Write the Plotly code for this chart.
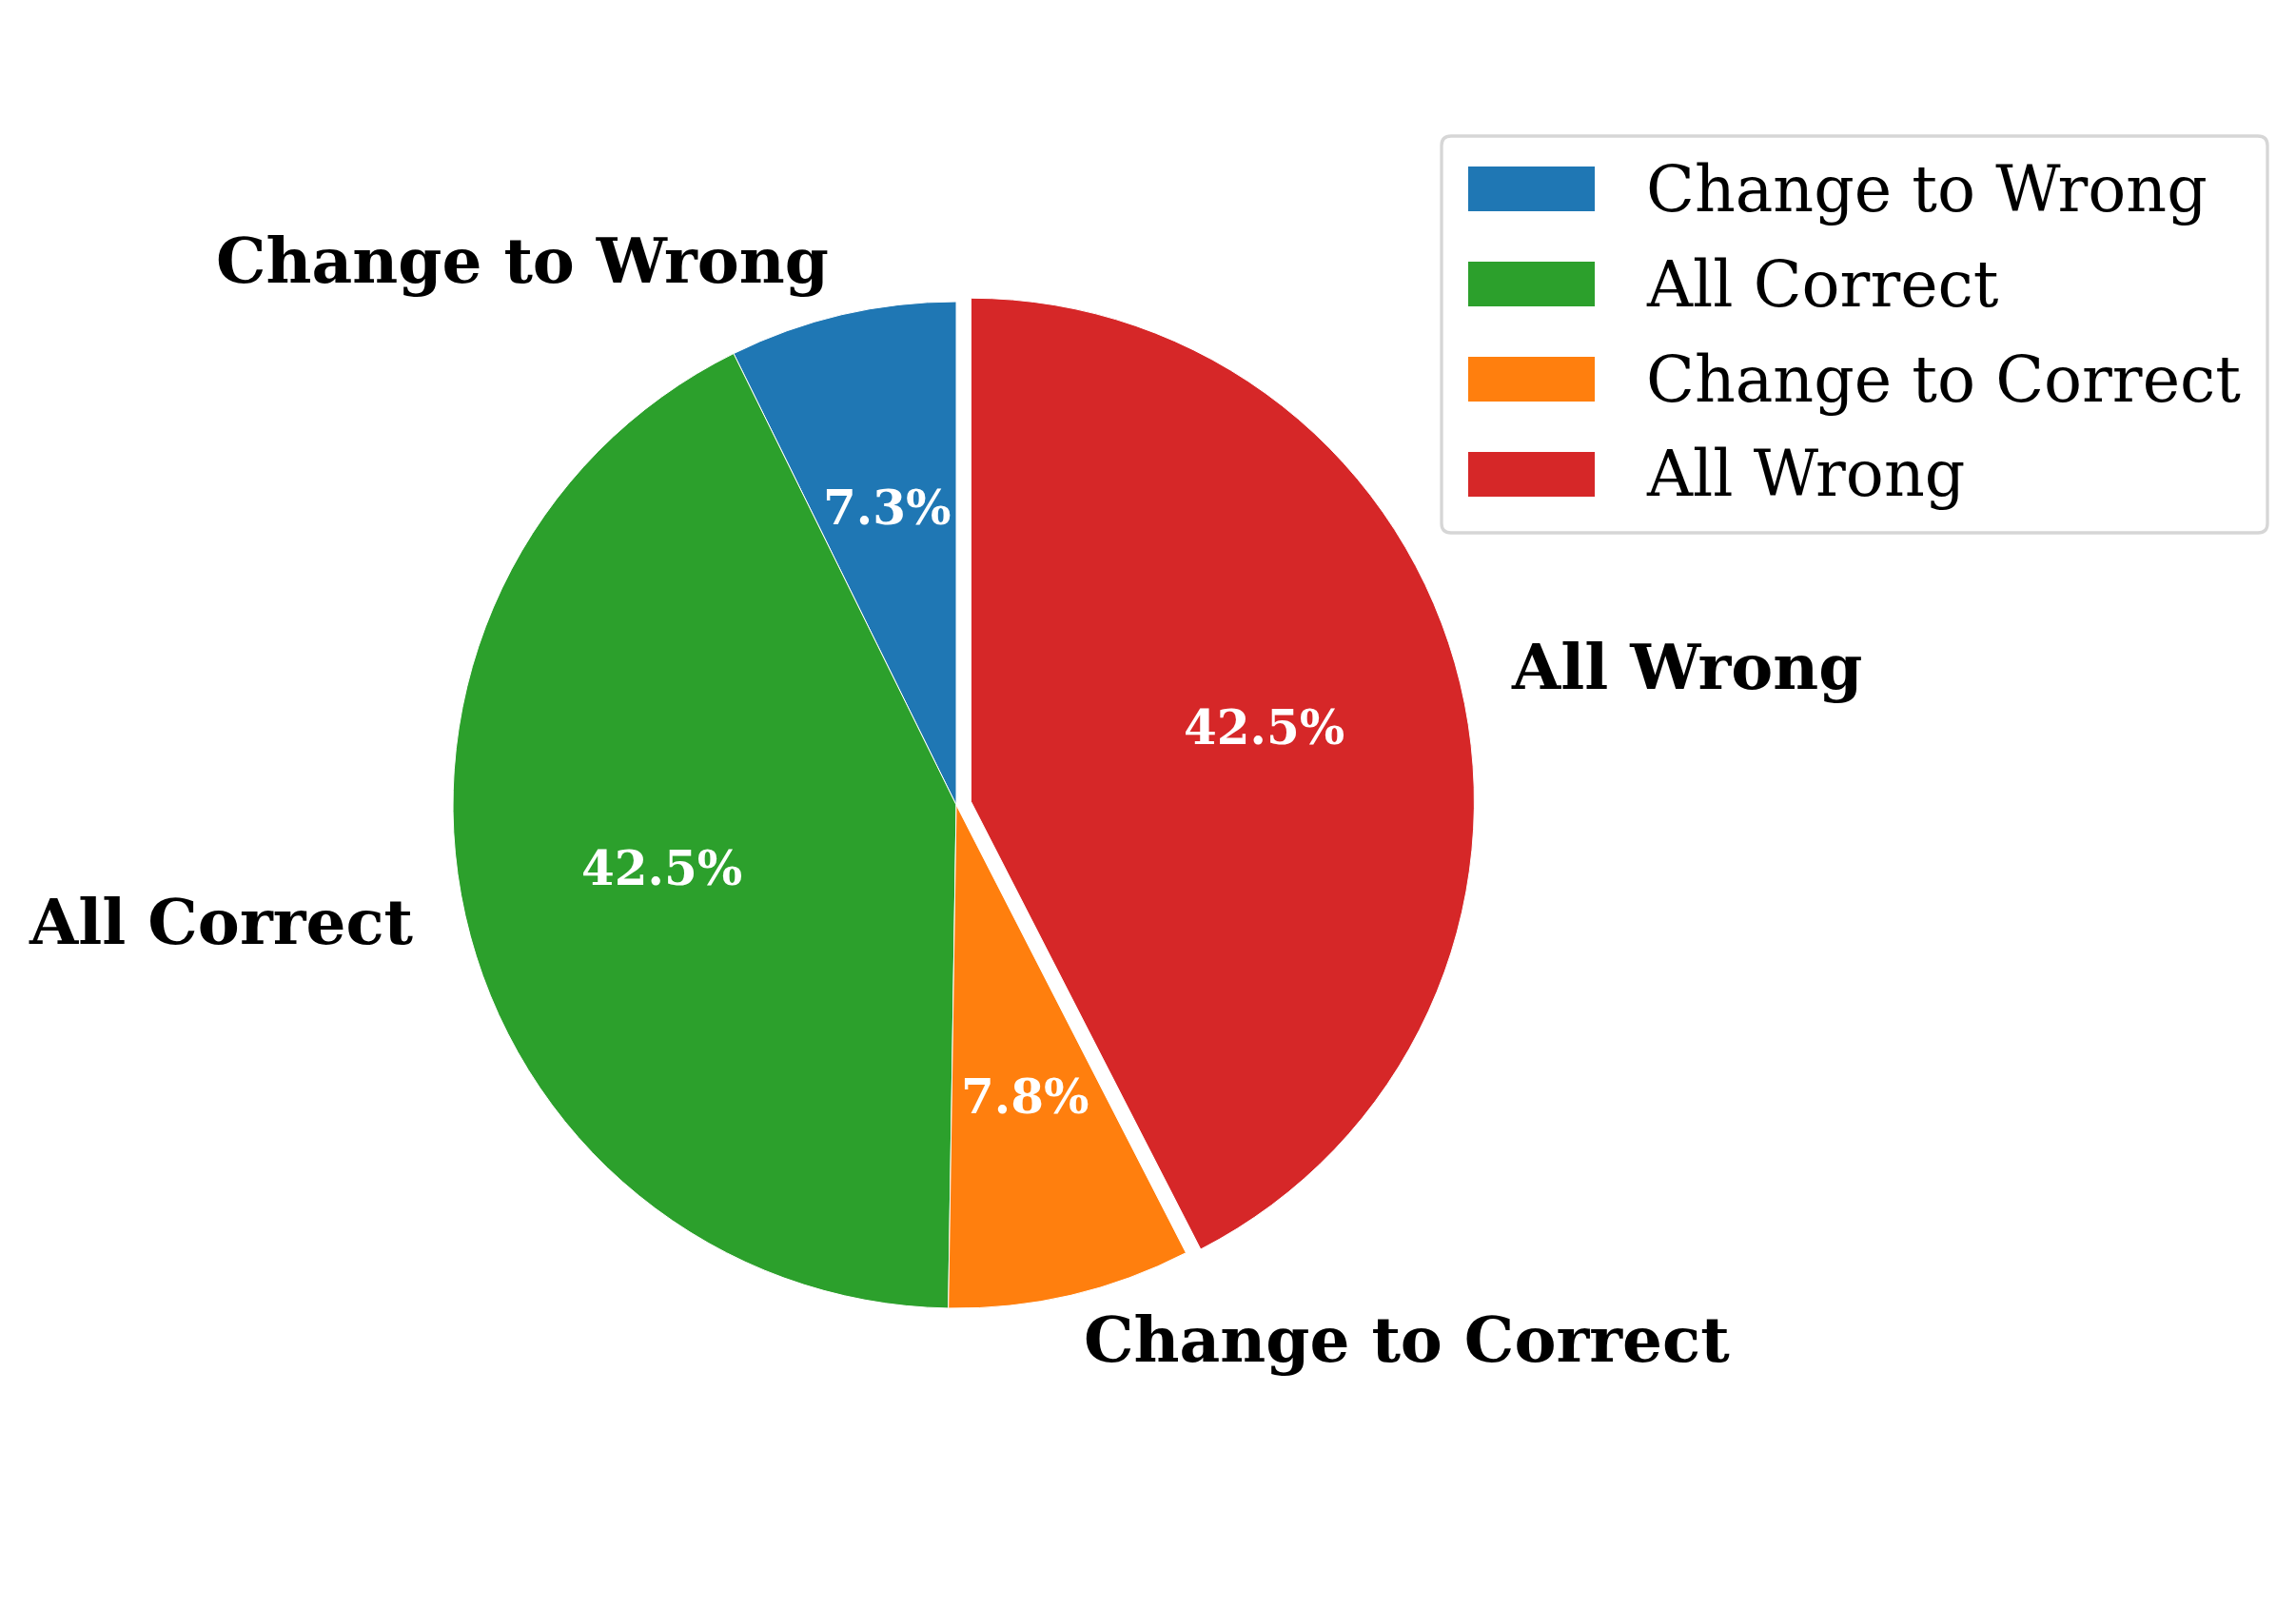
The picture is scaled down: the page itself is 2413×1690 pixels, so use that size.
import numpy as np
import plotly.graph_objects as go

labels = ["Change to Wrong", "All Correct", "Change to Correct", "All Wrong"]
values = [7.3, 42.5, 7.8, 42.5]
colors = ["#1f77b4", "#2ca02c", "#ff7f0e", "#d62728"]
pulls = [0, 0, 0, 0.03]

W, H = 2413, 1690
OFF = 8  # default body margin of the html page
FW, FH = W - 2 * OFF, H - 2 * OFF
# pie geometry in page pixels
CX, CY, R = 1005, 846, 529
FONT = "DejaVu Serif"


def fx(v):
    return (v - OFF) / FW


def fy(v):
    return 1 - (v - OFF) / FH


half = R * (1 + max(pulls))
dom_x = [fx(CX - half), fx(CX + half)]
dom_y = [fy(CY + half), fy(CY - half)]

total = sum(values)
# plotly counterclockwise pies end the first slice at the rotation angle,
# so shift back by the first slice so it starts at 12 o'clock like matplotlib
first_span = values[0] / total * 360

fig = go.Figure(go.Pie(
    labels=labels, values=values, sort=False,
    direction="counterclockwise", rotation=-first_span,
    pull=pulls, textinfo="none",
    marker=dict(colors=colors, line=dict(color="white", width=1)),
    domain=dict(x=dom_x, y=dom_y),
    showlegend=False))

# percentage and outer labels, placed like matplotlib (pctdistance 0.6, labeldistance 1.1)
start = 90.0
annotations = []
for lab, v, p in zip(labels, values, pulls):
    span = v / total * 360
    mid = np.deg2rad(start + span / 2)
    start += span
    c, s = np.cos(mid), np.sin(mid)
    px = CX + (p + 0.6) * R * c
    py = CY - (p + 0.6) * R * s
    annotations.append(dict(
        x=fx(px), y=fy(py), xref="paper", yref="paper",
        text=f"{v / total * 100:.1f}%", showarrow=False,
        xanchor="center", yanchor="middle", yshift=3,
        font=dict(family=FONT, size=50, color="white", weight="bold")))
    lx = CX + (p + 1.1) * R * c
    ly = CY - (p + 1.1) * R * s
    annotations.append(dict(
        x=fx(lx), y=fy(ly), xref="paper", yref="paper",
        text=lab, showarrow=False, yshift=5,
        xanchor="left" if c > 0 else "right", yanchor="middle",
        font=dict(family=FONT, size=66, color="black", weight="bold")))

# legend drawn by hand to get matplotlib-style wide patches
shapes = []
bx0, bx1, by0, by1, rad = 1515, 2383, 143, 560, 10
rx, ry = rad / FW, rad / FH
x0, x1, y0, y1 = fx(bx0), fx(bx1), fy(by0), fy(by1)
box = (f"M {x0+rx},{y0} L {x1-rx},{y0} Q {x1},{y0} {x1},{y0-ry} "
       f"L {x1},{y1+ry} Q {x1},{y1} {x1-rx},{y1} L {x0+rx},{y1} "
       f"Q {x0},{y1} {x0},{y1+ry} L {x0},{y0-ry} Q {x0},{y0} {x0+rx},{y0} Z")
shapes.append(dict(type="path", path=box, xref="paper", yref="paper",
                   line=dict(color="#d6d6d6", width=3.3), fillcolor="white"))
for i, (lab, col) in enumerate(zip(labels, colors)):
    yc = 198.5 + 100 * i
    shapes.append(dict(type="rect", xref="paper", yref="paper",
                       x0=fx(1543), x1=fx(1676), y0=fy(yc + 23.5), y1=fy(yc - 23.5),
                       fillcolor=col, line=dict(width=0)))
    annotations.append(dict(
        x=fx(1728), y=fy(yc), xref="paper", yref="paper", text=lab,
        showarrow=False, xanchor="left", yanchor="middle",
        font=dict(family=FONT, size=66.5, color="black")))

fig.update_layout(
    width=FW, height=FH,
    margin=dict(l=0, r=0, t=0, b=0),
    paper_bgcolor="white", plot_bgcolor="white",
    annotations=annotations, shapes=shapes)

fig.write_html("out.html")
